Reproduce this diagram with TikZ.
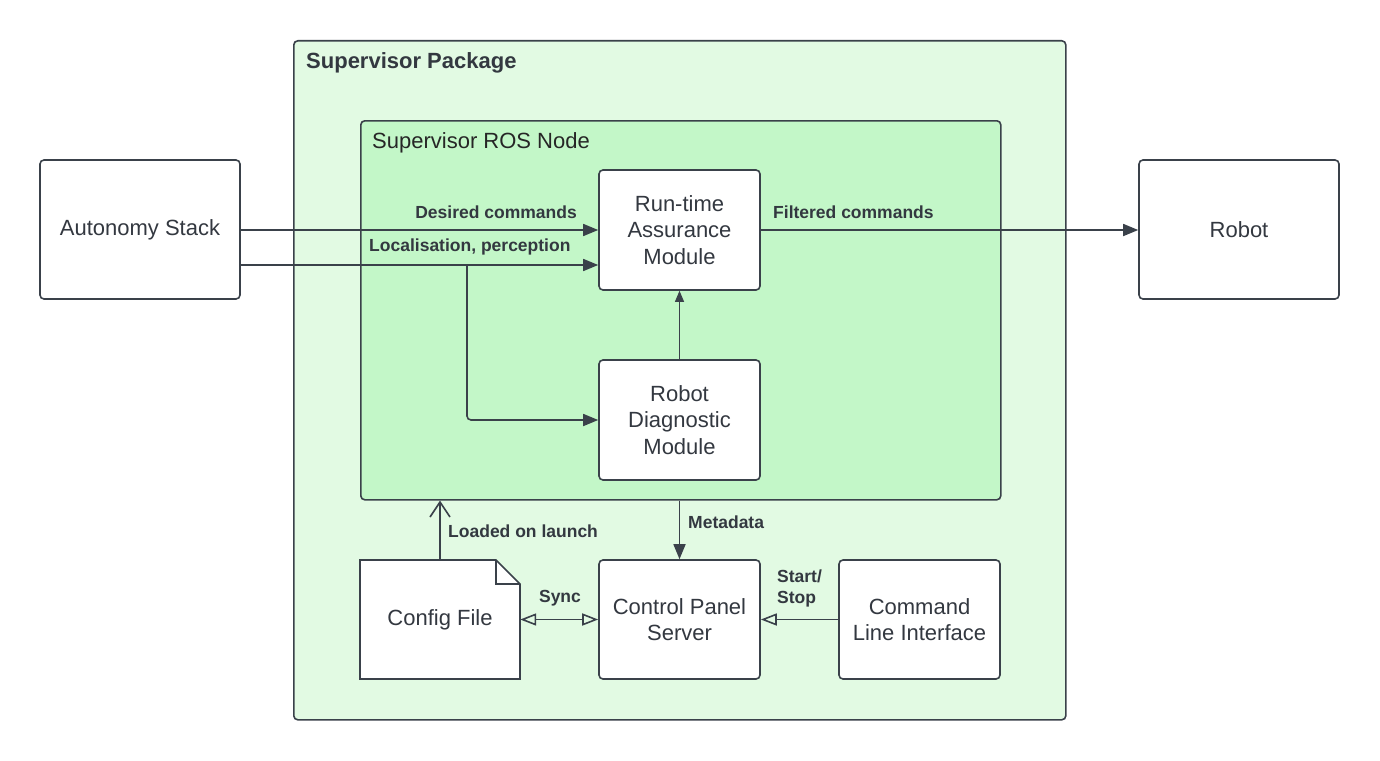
\documentclass[tikz,border=0pt]{standalone}
\usepackage{fontspec}
\setmainfont{Liberation Sans}
\usetikzlibrary{arrows.meta}
\definecolor{lc}{HTML}{3A414A}
\definecolor{tc}{HTML}{333840}
\definecolor{pkg}{HTML}{E2FAE3}
\definecolor{ros}{HTML}{C3F7C8}
\tikzset{
  box/.style={draw=lc, line width=1.6pt, fill=white, rounded corners=4pt, align=center, text=tc, inner sep=0pt,
    font=\fontsize{22}{26.5}\selectfont},
  lbl/.style={text=tc, font=\fontsize{17.5}{21}\selectfont\bfseries, inner sep=0pt},
  conn/.style={draw=lc, line width=1.6pt},
  fhead/.style={-{Triangle[length=15pt,width=12pt]}},
  bothopen/.style={{Triangle[open,length=16pt,width=12pt,line width=1.6pt]}-{Triangle[open,length=16pt,width=12pt,line width=1.6pt]}},
  endopen/.style={-{Triangle[open,length=16pt,width=12pt,line width=1.6pt]}},
}
\begin{document}
\begin{tikzpicture}[x=1pt,y=-1pt]
\useasboundingbox (0,0) rectangle (1380,760);
% containers
\node[draw=lc, line width=1.6pt, fill=pkg, rounded corners=4pt, minimum width=772pt, minimum height=679pt, anchor=north west, inner sep=0pt] (pkgbox) at (293,40) {};
\node[anchor=west, text=tc, font=\fontsize{22}{26}\selectfont\bfseries, inner sep=0pt] (pkgtitle) at (306,63) {Supervisor Package};
\node[draw=lc, line width=1.6pt, fill=ros, rounded corners=4pt, minimum width=640pt, minimum height=379pt, anchor=north west, inner sep=0pt] (rosbox) at (360,120) {};
\node[anchor=west, text=black!85, font=\fontsize{22}{26}\selectfont, inner sep=0pt] (rostitle) at (372,142.5) {Supervisor ROS Node};
% boxes
\node[box, minimum width=200pt, minimum height=139pt] (auto) at (140,229.5) {Autonomy Stack};
\node[box, minimum width=200pt, minimum height=139pt] (robot) at (1239,229.5) {Robot};
\node[box, minimum width=161pt, minimum height=120pt] (rta) at (679.5,230) {Run-time\\Assurance\\Module};
\node[box, minimum width=161pt, minimum height=120pt] (rdm) at (679.5,420) {Robot\\Diagnostic\\Module};
\node[box, minimum width=161pt, minimum height=119pt] (cps) at (679.5,619.5) {Control Panel\\Server};
\node[box, minimum width=161pt, minimum height=119pt] (cli) at (919.5,619.5) {Command\\Line Interface};
% config file
\coordinate (cfgnw) at (360,560);
\coordinate (cfgse) at (520,679);
\draw[lc, line width=1.6pt, fill=white, line join=miter] (cfgnw) -- (496,560) -- (520,584) -- (cfgse) -- (360,679) -- cycle;
\draw[lc, line width=1.6pt] (496,560) -- (496,584) -- (520,584);
\node[minimum width=160pt, minimum height=119pt, inner sep=0pt, text=tc, font=\fontsize{22}{26}\selectfont] (cfg) at (440,619.5) {Config File};
% coordinates
\coordinate (a1) at (241,230);
\coordinate (a2) at (241,265);
\coordinate (br) at (467,265);
\coordinate (bend) at (467,420);
% connectors
\draw[conn, fhead] (a1) -- (a1 -| rta.west);
\draw[conn, fhead] (a2) -- (a2 -| rta.west);
\draw[conn, fhead, rounded corners=4pt] (br) -- (bend) -- (rdm.west);
\draw[lc, line width=0.9pt, -{Triangle[length=11pt,width=9pt]}] (rdm.north) -- (rta.south);
\draw[conn, fhead] (rta.east |- a1) -- (robot.west |- a1);
\draw[conn, fhead] (rosbox.south -| rta.south) -- (cps.north);
\draw[conn, -{Straight Barb[length=15pt,width=20pt,line width=1.6pt]}] (cfg.north) -- (cfg.north |- rosbox.south);
\draw[conn, bothopen] (cfg.east) -- (cps.west);
\draw[conn, endopen] (cli.west) -- (cps.east);
% labels
\node[lbl, anchor=east] (l1) at (577,212) {Desired commands};
\node[lbl, anchor=west] (l2) at (369,247) {Localisation, perception};
\node[lbl, anchor=west] (l3) at (773,212) {Filtered commands};
\node[lbl, anchor=west] (l4) at (688,522) {Metadata};
\node[lbl, anchor=west] (l5) at (448,531) {Loaded on launch};
\node[lbl] (l6) at (560,598) {Sync};
\node[lbl, anchor=west, align=left] (l7) at (777,588) {Start/\\Stop};
\end{tikzpicture}
\end{document}
